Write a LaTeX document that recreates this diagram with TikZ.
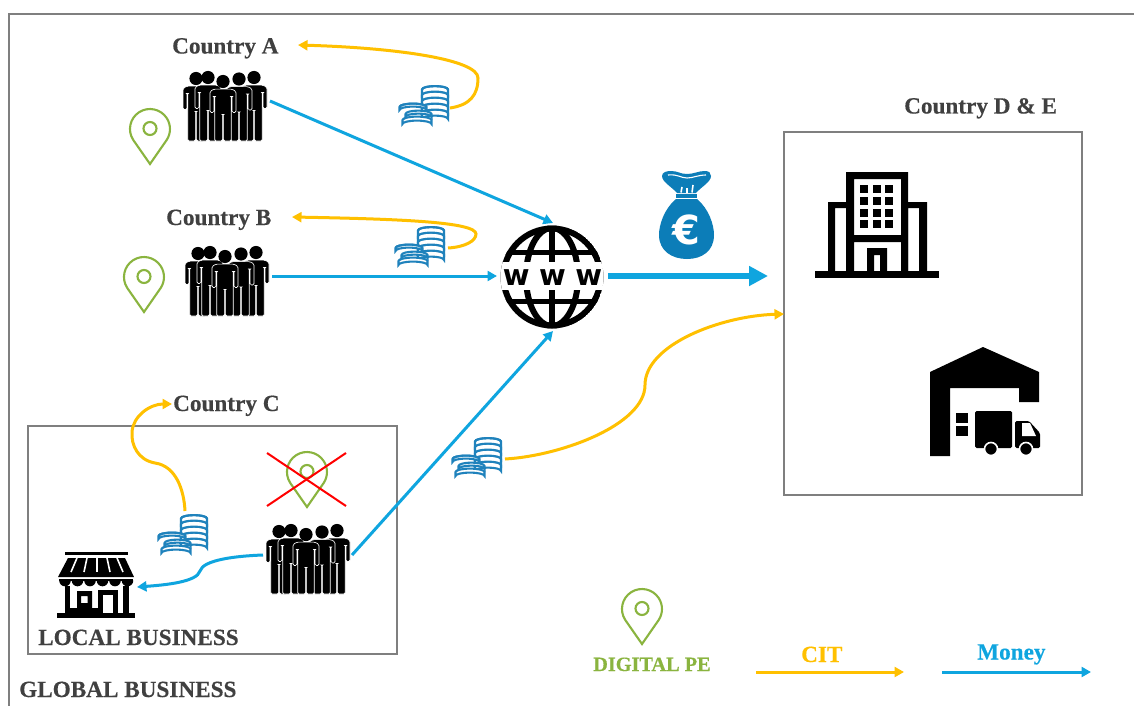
\documentclass[tikz,border=0pt]{standalone}
\usepackage{fontspec}
\setmainfont[BoldFeatures={FakeBold=0.35}]{Liberation Serif}
\newfontfamily\iconfont{DejaVu Sans}
\usetikzlibrary{arrows.meta}
\definecolor{moneyblue}{HTML}{0FA5DF}
\definecolor{citgold}{HTML}{FFC000}
\definecolor{pingreen}{HTML}{8AB43F}
\definecolor{coinblue}{HTML}{1F82BC}
\definecolor{bagblue}{HTML}{0C7DB8}
\definecolor{framegrey}{HTML}{7F7F7F}
\definecolor{labelgrey}{HTML}{404040}
\newcommand{\personshape}[3]{%
  \fill[black] (#1,#2) circle[radius=6.6];
  \begin{scope}[shift={(#1,#2)}]
    \filldraw[black,draw=white,line width=.65pt,rounded corners=1.4pt]
      (-9,7.6) -- (9,7.6) -- (13,10) -- (13,31) -- (9.1,31) -- (9.1,15) -- (8.3,15)
      -- (8.3,#3-#2) -- (.4,#3-#2) -- (.4,33) -- (-.4,33) -- (-.4,#3-#2) -- (-8.3,#3-#2)
      -- (-8.3,15) -- (-9.1,15) -- (-9.1,31) -- (-13,31) -- (-13,10) -- cycle;
  \end{scope}}
% one coin seen from the side: centre x, top y, half width, thickness
\newcommand{\coinlayer}[4]{%
  \filldraw[draw=coinblue,fill=white,line width=2.1pt]
    (#1-#3,#2) -- ++(0,#4) arc[start angle=180,end angle=360,x radius=#3,y radius=3.4] -- ++(0,-#4)
    arc[start angle=0,end angle=-180,x radius=#3,y radius=3.4] -- cycle;}
\newcommand{\cointop}[3]{%
  \draw[coinblue,line width=2.1pt] (#1-#3,#2) arc[start angle=180,end angle=360,x radius=#3,y radius=3.4];}
\tikzset{
  label text/.style={inner sep=0pt,anchor=base west,text=labelgrey,font=\fontsize{23.2}{25}\selectfont\bfseries},
  moneyline/.style={moneyblue,line width=3pt,-{Triangle[length=9.5pt,width=10pt]}},
  citline/.style={citgold,line width=3pt,-{Triangle[length=9.5pt,width=10pt]}},
  framebox/.style={framegrey,line width=2pt},
  pin/.pic={
    \draw[pingreen,line width=2.1pt,line join=miter]
      (21,55) -- (4.2,30.9) arc[start angle=147,end angle=393,radius=20] -- cycle;
    \draw[pingreen,line width=2.1pt] (21,19.5) circle[radius=6.5];
  },
  people/.pic={
    \personshape{12}{6.5}{69}
    \personshape{70}{5.5}{69}
    \personshape{55}{7}{69}
    \personshape{24}{5.5}{69}
    \personshape{39}{9.5}{69}
  },
  coins/.pic={
    \foreach \y in {28,22,16,10}{\coinlayer{35}{\y}{13}{6}}
    \coinlayer{35}{4.5}{13}{5.5}
    \cointop{35}{4.5}{13}
    \coinlayer{17}{35}{14.5}{4}
    \coinlayer{18.5}{29}{13}{3}
    \coinlayer{13}{22}{13.5}{3}
    \cointop{13}{22}{13.5}
  }
}
\begin{document}
\begin{tikzpicture}[x=1pt,y=-1pt]
\useasboundingbox (0,0) rectangle (1134,706);
\fill[white] (0,0) rectangle (1134,706);
% frame
\draw[framebox] (9,706) -- (9,14) -- (1134,14);
\draw[framebox] (28,425.5) rectangle (397,653.5);
\draw[framebox] (784,132) rectangle (1082,495);

% endpoints
\coordinate (aOut) at (270,101);
\coordinate (bOut) at (272,276);
\coordinate (cOut) at (352,555);
\coordinate (cShop) at (263,555);
\coordinate (shopIn) at (137,587);
\coordinate (wwwTop) at (553,223);
\coordinate (wwwLeft) at (497,276);
\coordinate (wwwBottom) at (553,331);
\coordinate (wwwRight) at (608,276);
\coordinate (hqIn) at (768,276);
\coordinate (aCoin) at (450,108);
\coordinate (bCoin) at (448,248);
\coordinate (cCoin) at (185,511);
\coordinate (dCoin) at (505,459);
\coordinate (boxIn) at (784,314);
\coordinate (citStart) at (756,672);
\coordinate (citEnd) at (904,672);
\coordinate (monStart) at (942,672);
\coordinate (monEnd) at (1091,672);
\coordinate (xA) at (267,453);
\coordinate (xB) at (346,506);
\coordinate (xC) at (346,453);
\coordinate (xD) at (267,506);

% labels
\node[label text] (lblA) at (172,53.5) {Country A};
\node[label text] (lblB) at (166,225) {Country B};
\node[label text] (lblC) at (173,411) {Country C};
\node[label text] (lblD) at (904,113.5) {Country D \& E};
\node[label text] (lblLocal) at (38,645) {LOCAL BUSINESS};
\node[label text] (lblGlobal) at (19,697) {GLOBAL BUSINESS};
\node[label text,text=pingreen,font=\fontsize{20.3}{22}\selectfont\bfseries] (lblPE) at (593,671) {DIGITAL PE};
\node[label text,text=citgold] (lblCIT) at (801,662) {CIT};
\node[label text,text=moneyblue] (lblMoney) at (977,659.5) {Money};

% gold connectors (behind the coins)
\draw[citline] (aCoin) .. controls (470,105) and (478,95) .. (478,78) .. controls (478,60) and (400,48) .. (298,45);
\draw[citline] (bCoin) .. controls (465,247) and (476,241) .. (476,234) .. controls (476,222) and (400,219) .. (292,217);
\draw[citline] (cCoin) .. controls (184,490) and (176,466) .. (155,463) .. controls (138,460) and (131,445) .. (132,432) .. controls (133,416) and (150,404) .. (172,404);
\draw[citline] (dCoin) .. controls (560,456) and (645,425) .. (645,385) .. controls (645,345) and (720,316) .. (boxIn);
\draw[citline] (citStart) -- (citEnd);

% blue connectors
\draw[moneyline] (aOut) -- (wwwTop);
\draw[moneyline] (bOut) -- (wwwLeft);
\draw[moneyline] (cOut) -- (wwwBottom);
\draw[moneyline] (cShop) .. controls (235,556) and (203,560) .. (200,571) .. controls (197,582) and (165,585) .. (shopIn);
\draw[moneyline] (monStart) -- (monEnd);
\draw[moneyblue,line width=6pt,-{Triangle[length=19pt,width=19pt,sep=0pt]}] (wwwRight) -- (hqIn);

% people, pins, coins
\pic at (184,72) {people};
\pic at (186,247) {people};
\pic at (267,525) {people};
\pic at (129,109) {pin};
\pic at (123,257) {pin};
\pic at (286,452) {pin};
\pic at (621,589) {pin};
\pic at (400,85) {coins};
\pic at (396,226) {coins};
\pic at (453,437) {coins};
\pic at (159,514) {coins};

% red cross
\draw[red,line width=2pt] (xA) -- (xB);
\draw[red,line width=2pt] (xC) -- (xD);

% globe
\begin{scope}
  \clip (552,277) circle[radius=51.5];
  \draw[black,line width=6pt] (552,277) circle[radius=48.5];
  \draw[black,line width=6pt] (552,227) -- (552,327);
  \draw[black,line width=6pt] (552,277) ellipse[x radius=26,y radius=49];
  \draw[black,line width=5.5pt] (500,252.5) -- (605,252.5);
  \draw[black,line width=5.5pt] (500,301.5) -- (605,301.5);
  \fill[white] (495,262) rectangle (610,290);
\end{scope}
\node[inner sep=0pt,font=\iconfont\fontsize{29}{31}\selectfont\bfseries,text=black] (www) at (552.5,277.5)
  {w\hspace{9.5pt}w\hspace{9.5pt}w};

% money bag
\fill[bagblue] (676,199) .. controls (664,209) and (659,225) .. (659,235) .. controls (659,251) and (672,259) .. (687,259)
  .. controls (702,259) and (714,251) .. (714,235) .. controls (714,225) and (709,209) .. (697,199) -- cycle;
\fill[bagblue] (676,194) rectangle (697,198);
\fill[bagblue] (677,193) .. controls (672,187) and (662,182) .. (662,176) .. controls (662,172) and (667,171) .. (671,171)
  .. controls (678,171) and (680,174) .. (687,174) .. controls (694,174) and (698,171) .. (705,171)
  .. controls (709,171) and (711,173) .. (711,176) .. controls (711,182) and (701,187) .. (696,193) -- cycle;
\draw[white,line width=1.1pt] (668,175) .. controls (678,174) and (681,178) .. (687,178) .. controls (693,178) and (698,175) .. (706,175);
\draw[white,line width=1.6pt] (681,192.5) -- (682,187);
\draw[white,line width=1.6pt] (692,192.5) -- (693,185);
\draw[white,line width=1.4pt] (687,192.5) -- (687,188);
\node[inner sep=0pt,text=white,font=\iconfont\fontsize{40}{42}\selectfont\bfseries] (euro) at (686.5,230) {€};

% office building
\fill[black] (815,271) rectangle (939,278);
\fill[black,even odd rule] (846,172) rectangle (908,271) (854,179) rectangle (901,235) (854,242) rectangle (901,271);
\fill[black,even odd rule] (828,202) rectangle (846,271) (835,208) rectangle (846,271);
\fill[black,even odd rule] (908,202) rectangle (927,271) (908,208) rectangle (919,271);
\fill[black,even odd rule] (867,248) rectangle (887,271) (874,255) rectangle (880,271);
\foreach \cx in {864,877,889}{\foreach \cy in {189,201,213,224}{
  \fill[black] (\cx-4,\cy-4) rectangle (\cx+4,\cy+4);}}

% warehouse
\fill[black] (930,372) -- (983,347) -- (1039,372) -- (1039,402) -- (1019,402) -- (1019,388) -- (950,388) -- (950,456) -- (930,456) -- cycle;
\fill[black] (956,413) rectangle (968,423);
\fill[black] (956,426) rectangle (968,436);
\fill[black,rounded corners=1.5pt] (975,411) rectangle (1012,448);
\fill[black,rounded corners=1.5pt] (1015,421) -- (1029,421) -- (1040,433) -- (1040,448) -- (1015,448) -- cycle;
\fill[white] (1022,423) -- (1030,423) -- (1036,436) -- (1022,436) -- cycle;
\filldraw[black,draw=white,line width=1.6pt] (991,449) circle[radius=6.5];
\filldraw[black,draw=white,line width=1.6pt] (1026,449) circle[radius=6.5];

% shop
\fill[black] (65,552) rectangle (128,555);
\fill[black] (68,558) -- (125,558) -- (134,577) -- (58,577) -- cycle;
\foreach \ta/\tb in {77/71,87/84,97/97,107/110,117/123}{
  \draw[white,line width=1.6pt] (\ta,558) -- (\tb,572);}
\fill[black] (59,578.5) rectangle (133,581);
\foreach \sx in {65,77.5,90,102.5,115,127.5}{
  \fill[black] (\sx-5.8,580.5) arc[start angle=180,end angle=0,radius=5.8] -- cycle;}
\fill[black] (57,613) rectangle (135,618);
\fill[black] (65,586) rectangle (70,613);
\fill[black] (123,586) rectangle (128.5,613);
\fill[black,even odd rule] (77,591) rectangle (92,608) (81,596) rectangle (87.5,603);
\fill[black] (65,608) rectangle (103,613);
\fill[black] (98,590) rectangle (103,613);
\fill[black] (98,590) rectangle (118,595);
\fill[black] (113,590) rectangle (118,613);
\end{tikzpicture}
\end{document}
